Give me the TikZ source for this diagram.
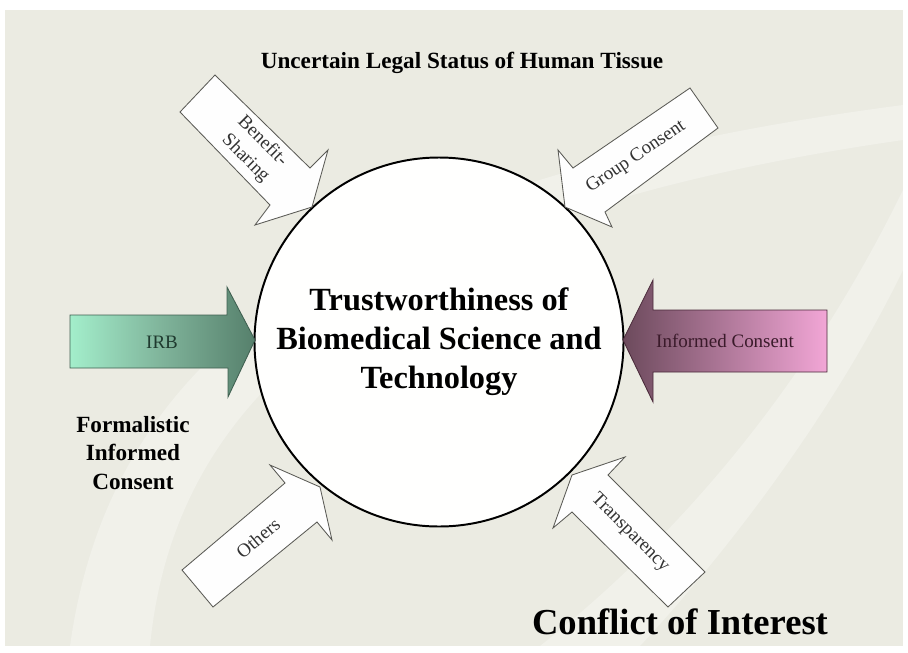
\documentclass[tikz,border=0pt]{standalone}
\usepackage{fontspec}
\setmainfont{Liberation Serif}
\usetikzlibrary{calc}

\definecolor{slidebg}{HTML}{EBEBE2}
\definecolor{arrowline}{HTML}{5A5A55}
\definecolor{lbltext}{HTML}{333333}
\definecolor{irblight}{HTML}{A3EECB}
\definecolor{irbmid}{HTML}{7FB39A}
\definecolor{irbdark}{HTML}{56806C}
\definecolor{irbline}{HTML}{3F5F50}
\definecolor{irbtext}{HTML}{1F3A2F}
\definecolor{icdark}{HTML}{6C4A5C}
\definecolor{icmid}{HTML}{B57A9C}
\definecolor{iclight}{HTML}{F2A6D6}
\definecolor{icline}{HTML}{4A2A3A}
\definecolor{ictext}{HTML}{3A1A2A}

\tikzset{
  blockarrow/.style={draw=arrowline, line width=0.6pt, fill=white!97!slidebg, line join=miter},
  lbl/.style={font=\fontsize{13.5}{17}\selectfont, text=lbltext, align=center},
  boldlbl/.style={font=\bfseries\fontsize{16.5}{20}\selectfont, align=center},
  swoosh/.style={fill=white, opacity=0.3, draw=none}
}

\begin{document}
\begin{tikzpicture}[x=0.025cm, y=-0.025cm]
  \useasboundingbox (0,0) rectangle (908,652);
  \fill[white] (0,0) rectangle (908,652);
  \fill[slidebg] (5,10) rectangle (903,646);
  % light swooshes in the background
  \fill[swoosh] (70,646) .. controls (110,360) and (330,180) .. (903,105)
     -- (903,140) .. controls (380,215) and (175,390) .. (150,646) -- cycle;
  \fill[swoosh] (540,646) .. controls (700,520) and (820,360) .. (903,190)
     -- (903,270) .. controls (830,420) and (720,560) .. (640,646) -- cycle;

  % centre
  \node[circle, draw, line width=1.4pt, fill=white!98!slidebg, minimum size=369*0.025cm] (core) at (439,342) {};
  \node[font=\bfseries\fontsize{23}{27.7}\selectfont, align=center] (coretext) at (core.center)
     {Trustworthiness of\\Biomedical Science and\\Technology};

  % block arrows
  \draw[blockarrow] (215,75) -- (310,168) -- (328,150) -- (312,207) -- (255,225) -- (270,205) -- (180,112) -- cycle;
  \node[lbl, rotate=-45] (benefit) at (254,150) {Benefit-\\Sharing};

  \draw[blockarrow] (690,88) -- (718,128) -- (605,212) -- (612,227) -- (565,207) -- (558,150) -- (573,168) -- cycle;
  \node[lbl, rotate=34] (group) at (636,157) {Group Consent};

  \shade[left color=irblight, right color=irbdark, middle color=irbmid]
     (70,315) -- (227,315) -- (227,287) -- (255,340) -- (228,397) -- (228,368) -- (70,368) -- cycle;
  \draw[draw=irbline, line width=0.6pt] (70,315) -- (227,315) -- (227,287) -- (255,340) -- (228,397) -- (228,368) -- (70,368) -- cycle;
  \node[lbl, text=irbtext] (irb) at (162,342) {IRB};

  \shade[left color=icdark, middle color=icmid, right color=iclight]
     (827,310) -- (653,310) -- (653,280) -- (623,340) -- (653,402) -- (653,372) -- (827,372) -- cycle;
  \draw[draw=icline, line width=0.6pt] (827,310) -- (653,310) -- (653,280) -- (623,340) -- (653,402) -- (653,372) -- (827,372) -- cycle;
  \node[lbl, text=ictext] (informed) at (725,341) {Informed Consent};

  \draw[blockarrow] (182,570) -- (285,483) -- (270,465) -- (320,487) -- (332,540) -- (317,522) -- (213,607) -- cycle;
  \node[lbl, rotate=40] (others) at (258,538) {Others};

  \draw[blockarrow] (572,475) -- (625,457) -- (608,475) -- (705,572) -- (668,607) -- (572,512) -- (553,528) -- cycle;
  \node[lbl, rotate=-45] (transp) at (630,533) {Transparency};

  % surrounding texts
  \node[boldlbl] (tissue) at (462,63) {Uncertain Legal Status of Human Tissue};
  \node[font=\bfseries\fontsize{16.5}{20.3}\selectfont, align=center] (formal) at (133,453)
     {Formalistic\\Informed\\Consent};
  \node[font=\bfseries\fontsize{26}{30}\selectfont] (coi) at (680,622) {Conflict of Interest};
\end{tikzpicture}
\end{document}
